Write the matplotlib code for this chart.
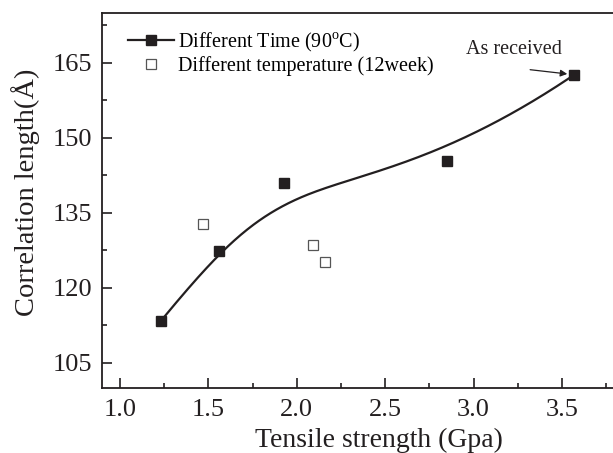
import numpy as np
import matplotlib
matplotlib.use("Agg")
import matplotlib.pyplot as plt

plt.rcParams['font.family'] = ['Liberation Serif', 'DejaVu Serif']
plt.rcParams['mathtext.fontset'] = 'custom'
plt.rcParams['mathtext.rm'] = 'Liberation Serif'

# Data
time_x = [1.23, 1.56, 1.93, 2.85, 3.57]
time_y = [113.3, 127.4, 141.0, 145.4, 162.6]
temp_x = [1.47, 2.09, 2.16]
temp_y = [132.8, 128.5, 125.2]
xticks = [1.0, 1.5, 2.0, 2.5, 3.0, 3.5]
yticks = [105, 120, 135, 150, 165]

BLACK = '#231f20'


def bspline(cx, cy, k=3, n=300):
    cx = np.asarray(cx, float)
    cy = np.asarray(cy, float)
    m = len(cx)
    interior = np.linspace(0, 1, m - k + 1)[1:-1]
    t = np.concatenate([np.zeros(k + 1), interior, np.ones(k + 1)])
    u = np.linspace(0, 1, n)
    u[-1] = 1 - 1e-12

    def N(i, p, uu):
        if p == 0:
            return np.where((t[i] <= uu) & (uu < t[i + 1]), 1.0, 0.0)
        a = np.zeros_like(uu)
        b = np.zeros_like(uu)
        if t[i + p] != t[i]:
            a = (uu - t[i]) / (t[i + p] - t[i]) * N(i, p - 1, uu)
        if t[i + p + 1] != t[i + 1]:
            b = (t[i + p + 1] - uu) / (t[i + p + 1] - t[i + 1]) * N(i + 1, p - 1, uu)
        return a + b

    B = np.array([N(i, k, u) for i in range(m)])
    return B.T @ cx, B.T @ cy


fig = plt.figure(figsize=(6.13, 4.53), dpi=100)
ax = fig.add_axes([102.3 / 613, 1 - 387.7 / 453, (615 - 102.3) / 613, (387.7 - 12.7) / 453])

sx, sy = bspline(time_x, time_y)
ax.plot(sx, sy, color=BLACK, lw=1.6, zorder=2)
ax.plot(time_x, time_y, ls='none', marker='s', ms=7, color=BLACK, zorder=3)
ax.plot(temp_x, temp_y, ls='none', marker='s', ms=6.5, mfc='white', mec='#555555', mew=0.9, zorder=3)

# legend handles
h1, = ax.plot([], [], color=BLACK, lw=1.6, marker='s', ms=7)
h2, = ax.plot([], [], ls='none', marker='s', ms=6.5, mfc='white', mec='#555555', mew=0.9)
leg = ax.legend([h1, h2], ['Different Time (90$^{\\rm o}$C)', 'Different temperature (12week)'],
                loc='upper left', bbox_to_anchor=(128 / 613, 1 - 31 / 453),
                bbox_transform=fig.transFigure, frameon=False, fontsize=14.5,
                handlelength=2.3, handletextpad=0.18, labelspacing=0.12,
                borderpad=0, borderaxespad=0)

ax.text(2.96, 167.6, 'As received', fontsize=14.5, color=BLACK, va='center', ha='left')
ax.annotate('', xy=(3.53, 162.75), xytext=(3.32, 163.6),
            arrowprops=dict(arrowstyle='-|>', color=BLACK, lw=0.9, mutation_scale=10,
                            shrinkA=0, shrinkB=0))

ax.set_xlim(0.9, 3.8)
ax.set_ylim(100, 175)
ax.set_xticks(xticks)
ax.set_xticklabels([f'{v:.1f}' for v in xticks])
ax.set_yticks(yticks)
ax.set_xticks(np.arange(1.25, 3.8, 0.5), minor=True)
ax.set_yticks(np.arange(112.5, 175, 15), minor=True)
ax.tick_params(which='both', direction='in', top=False, right=False, colors=BLACK,
               labelsize=19, width=1.2)
ax.tick_params(which='major', length=7, pad=8)
ax.tick_params(axis='y', which='major', pad=7)
ax.tick_params(which='minor', length=3.5)
for s in ax.spines.values():
    s.set_linewidth(1.3)
    s.set_color(BLACK)

ax.set_xlabel('Tensile strength (Gpa)', fontsize=20, color=BLACK)
ax.xaxis.set_label_coords((379 - 102.3) / (615 - 102.3), -(440 - 387.7) / 375, transform=ax.transAxes)
ax.xaxis.label.set_va('center')
ax.set_ylabel('Correlation length(Å)', fontsize=20.5, color=BLACK)
ax.yaxis.set_label_coords(-(102.3 - 26) / (615 - 102.3), (387.7 - 192) / 375, transform=ax.transAxes)
ax.yaxis.label.set_va('center')

fig.savefig('out.png', dpi=100)
